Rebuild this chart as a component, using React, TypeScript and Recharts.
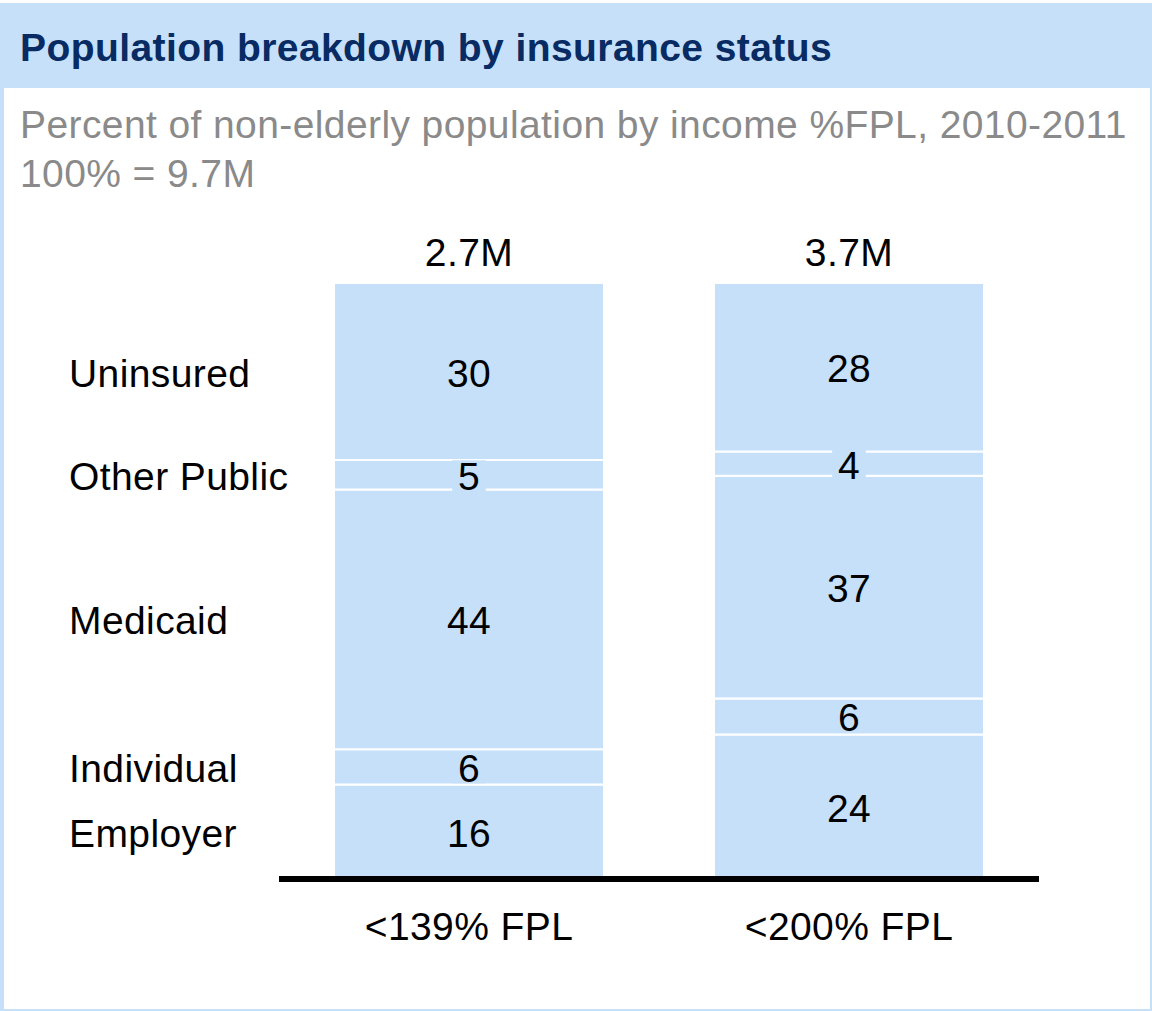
import React from 'react';
import { BarChart, Bar, XAxis, YAxis, LabelList } from 'recharts';

// ---- data ----
const categories = ['<139% FPL', '<200% FPL'];
const totals = ['2.7M', '3.7M'];
const seriesNames = ['Employer', 'Individual', 'Medicaid', 'Other Public', 'Uninsured'];
const seriesKeys = ['employer', 'individual', 'medicaid', 'otherPublic', 'uninsured'];
const employer = [16, 24];
const individual = [6, 6];
const medicaid = [44, 37];
const otherPublic = [5, 4];
const uninsured = [30, 28];
const seriesValues = [employer, individual, medicaid, otherPublic, uninsured];

const data = categories.map((c, i) => {
  const row: any = { category: c, total: totals[i] };
  seriesKeys.forEach((k, s) => {
    row[k] = seriesValues[s][i];
  });
  return row;
});

// ---- style ----
const W = 1152;
const H = 1011;
const BLUE = '#c6e0fa';
const NAVY = '#072b62';
const GRAY = '#8a8a8a';
const FONT = '"Liberation Sans", Arial, Helvetica, sans-serif';
const FS = 39;
const LS = 0.4;
const MARGIN = { top: 283, right: 113, left: 279 };
const BAR_SIZE = 270;

const makeLabel = (s: number) => (props: any) => {
  const { x, y, width, height, index } = props;
  const v = seriesValues[s][index];
  const cx = x + width / 2;
  const cy = y + height / 2;
  const tw = String(v).length * 0.556 * FS + 12;
  const isTop = s === seriesKeys.length - 1;
  return (
    <g>
      <rect x={cx - tw / 2} y={cy + 1 - 15.5} width={tw} height={31} fill={BLUE} />
      <text
        x={cx}
        y={cy + 15}
        textAnchor="middle"
        fontSize={FS}
        fontFamily={FONT}
        fill="#000"
        letterSpacing={LS}
      >
        {v}
      </text>
      {index === 0 && (
        <text
          x={x - 265}
          y={cy + 15}
          textAnchor="start"
          fontSize={FS}
          fontFamily={FONT}
          fill="#000"
          letterSpacing={LS}
        >
          {seriesNames[s]}
        </text>
      )}
      {isTop && (
        <text
          x={cx}
          y={y - 17}
          textAnchor="middle"
          fontSize={FS}
          fontFamily={FONT}
          fill="#000"
          letterSpacing={LS}
        >
          {totals[index]}
        </text>
      )}
    </g>
  );
};

const CategoryTick = (props: any) => {
  const { x, y, payload } = props;
  return (
    <text
      x={x}
      y={y + 61}
      textAnchor="middle"
      fontSize={FS}
      fontFamily={FONT}
      fill="#000"
      letterSpacing={LS}
    >
      {payload.value}
    </text>
  );
};

export default function App() {
  return (
    <div
      style={{
        position: 'absolute',
        left: 0,
        top: 0,
        width: W,
        height: H,
        background: '#fff',
        overflow: 'hidden',
      }}
    >
      <svg width={W} height={H} style={{ position: 'absolute', left: 0, top: 0 }}>
        <rect x={0} y={3} width={W} height={H - 3} fill={BLUE} />
        <rect x={4} y={88} width={1146} height={921} fill="#fff" />
        <text
          x={20}
          y={61}
          fontSize={FS}
          fontWeight="bold"
          fontFamily={FONT}
          fill={NAVY}
          letterSpacing={0.42}
        >
          Population breakdown by insurance status
        </text>
        <text x={20} y={138} fontSize={FS} fontFamily={FONT} fill={GRAY} letterSpacing={LS}>
          Percent of non-elderly population by income %FPL, 2010-2011
        </text>
        <text x={20} y={187} fontSize={FS} fontFamily={FONT} fill={GRAY} letterSpacing={LS}>
          100% = 9.7M
        </text>
      </svg>

      {/* bars + axis */}
      <div style={{ position: 'absolute', left: 0, top: 0 }}>
        <BarChart
          width={W}
          height={H}
          data={data}
          stackOffset="expand"
          barSize={BAR_SIZE}
          margin={{ ...MARGIN, bottom: 72 }}
        >
          <XAxis
            dataKey="category"
            height={60}
            axisLine={{ stroke: '#000', strokeWidth: 6 }}
            tickLine={false}
            tickSize={0}
            tickMargin={0}
            tick={<CategoryTick />}
            interval={0}
          />
          <YAxis hide domain={[0, 1]} />
          {seriesKeys.map((k) => (
            <Bar
              key={k}
              dataKey={k}
              stackId="a"
              fill={BLUE}
              stroke="#fff"
              strokeWidth={2}
              isAnimationActive={false}
            />
          ))}
        </BarChart>
      </div>

      {/* labels overlay */}
      <div style={{ position: 'absolute', left: 0, top: 0 }}>
        <BarChart
          width={W}
          height={H}
          data={data}
          stackOffset="expand"
          barSize={BAR_SIZE}
          margin={{ ...MARGIN, bottom: 132 }}
        >
          <XAxis dataKey="category" hide />
          <YAxis hide domain={[0, 1]} />
          {seriesKeys.map((k, s) => (
            <Bar
              key={k}
              dataKey={k}
              stackId="a"
              fill="transparent"
              isAnimationActive={false}
            >
              <LabelList dataKey={k} content={makeLabel(s)} />
            </Bar>
          ))}
        </BarChart>
      </div>
    </div>
  );
}
